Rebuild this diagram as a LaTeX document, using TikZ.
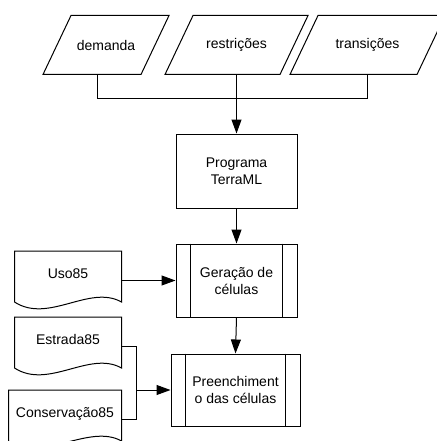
\documentclass[tikz,border=0pt]{standalone}
\usepackage{fontspec}
\setmainfont{Liberation Sans}
\usetikzlibrary{positioning, arrows.meta}

\begin{document}
\begin{tikzpicture}[
    x=1pt, y=-1pt,
    line width=1pt,
    font=\fontsize{14}{17}\selectfont,
    data/.style={rectangle, minimum height=58pt, inner sep=0pt},
    proc/.style={rectangle, draw, minimum width=121pt, minimum height=74pt, align=center, inner sep=2pt},
    docbox/.style={rectangle, minimum width=106pt, minimum height=58pt, text height=10pt, text depth=14pt, inner sep=0pt},
    arr/.style={-{Triangle[length=14pt, width=10pt]}}
]
    \useasboundingbox (0,0) rectangle (436,441);

    % entradas
    \node[data, minimum width=142pt] (res) at (236.5,45) {restrições};
    \node[data, minimum width=125pt, left=-4pt of res] (dem) {demanda};
    \node[data, minimum width=154pt, right=-18pt of res] (tra) {transições};

    \foreach \n in {dem,res,tra}
        \draw ([xshift=28pt]\n.north west) -- (\n.north east) -- ([xshift=-28pt]\n.south east)
            -- (\n.south west) -- cycle;

    % fluxo principal
    \node[proc, below=59pt of res] (prog) {Programa\\TerraML};
    \node[proc, minimum height=73pt, below=35pt of prog] (ger) {Geração de\\células};
    \node[proc, minimum width=129pt, minimum height=72pt, below=36pt of ger, xshift=-1pt] (pre) {Preenchiment\\o das células};

    % documentos
    \node[docbox, left=54pt of ger] (uso) {Uso85};
    \node[docbox, below=7pt of uso] (est) {Estrada85};
    \node[docbox, minimum width=112pt, below=14pt of est.south east, anchor=north east] (con) {Conservação85};

    \foreach \n in {uso,est,con}
        \draw (\n.north west) -- (\n.north east) -- ([yshift=8pt]\n.south east)
            .. controls +(-32pt,18pt) and +(34pt,-22pt) .. ([yshift=8pt]\n.south west) -- cycle;

    \foreach \n in {ger,pre}{
        \draw ([xshift=15pt]\n.north west) -- ([xshift=15pt]\n.south west);
        \draw ([xshift=-15pt]\n.north east) -- ([xshift=-15pt]\n.south east);
    }

    % ligacoes
    \coordinate[below=24pt of res] (mrg);
    \draw ([xshift=-9pt]dem.south) |- (mrg) -| (tra.south);
    \draw[arr] (res.south) -- (prog.north);
    \draw[arr] (prog.south) -- (ger.north);
    \draw[arr] (uso.east) -- (ger.west);
    \draw[arr] (ger.south) -- (pre.north);

    \coordinate (estx) at ([xshift=15pt]est.east);
    \coordinate (bus) at (estx |- pre.west);
    \draw (est.east) -- (estx) |- (con.east);
    \draw[arr] (bus) -- (pre.west);
\end{tikzpicture}
\end{document}
